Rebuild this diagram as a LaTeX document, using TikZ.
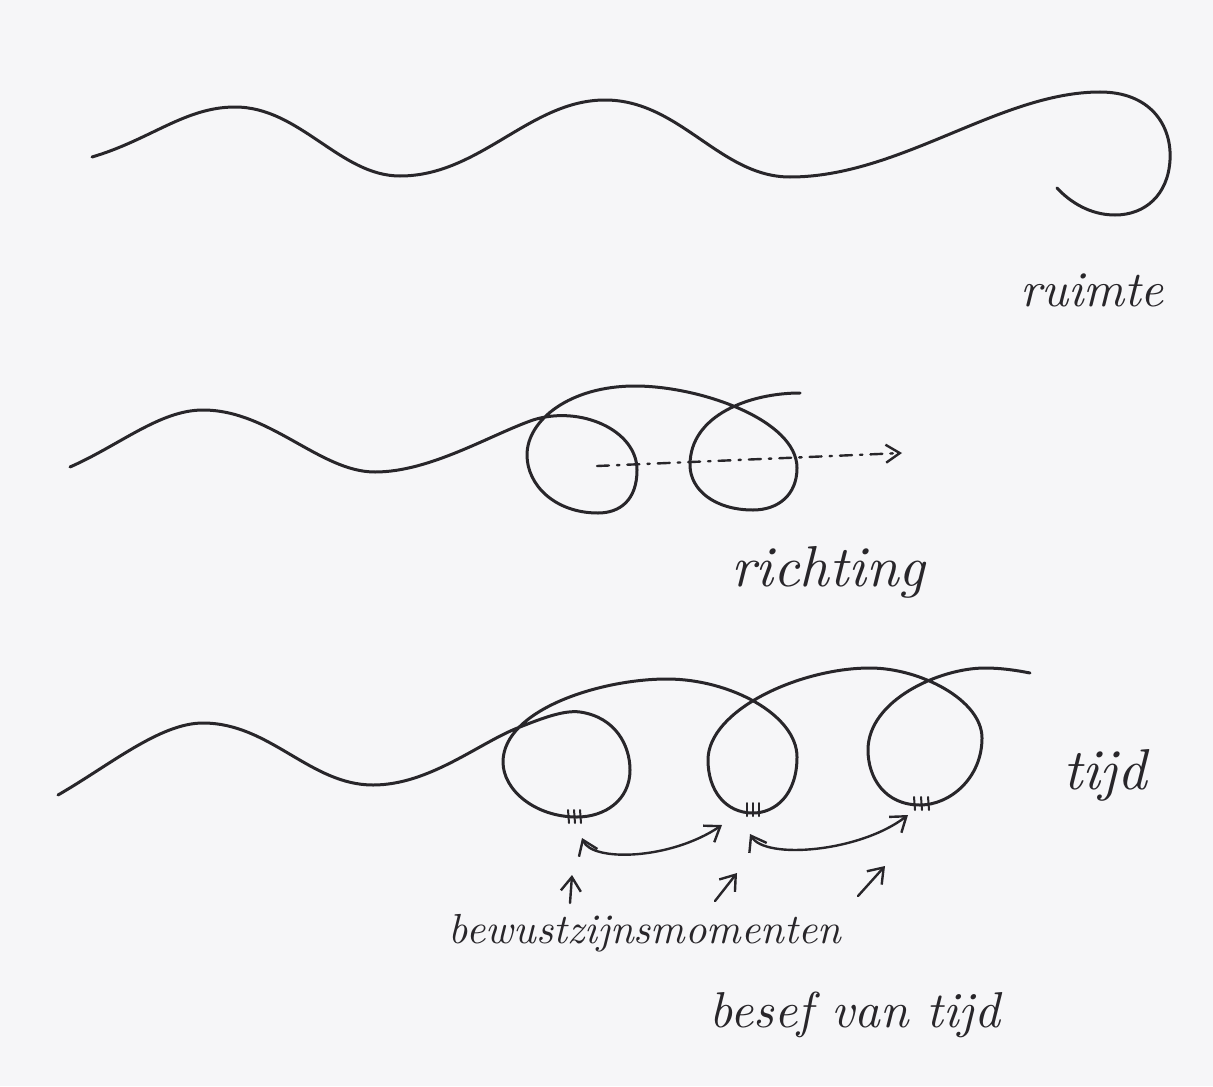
\documentclass[tikz,border=0pt]{standalone}
\usetikzlibrary{arrows.meta}
\definecolor{ink}{RGB}{40,38,42}
\definecolor{paper}{RGB}{246,246,248}
\tikzset{hb/.tip={Straight Barb[length=7pt,width=10pt]}}
\begin{document}
\begin{tikzpicture}[x=0.5pt,y=-0.5pt,
  pen/.style={draw=ink,line width=1.5pt,line cap=round,line join=round},
  tickmark/.style={draw=ink,line width=1pt,line cap=round},
  hand/.style={text=ink,inner sep=0pt},
  barbarrow/.style={draw=ink,line width=1.2pt,line cap=round,line join=round},
]
\fill[paper] (0,0) rectangle (1213,1086);
\useasboundingbox (0,0) rectangle (1213,1086);

% ---------- top wave: ruimte ----------
\draw[pen] (92,157) .. controls (150,140) and (185,107) .. (235,107)
  .. controls (300,107) and (340,176) .. (400,176)
  .. controls (480,176) and (530,100) .. (605,100)
  .. controls (680,100) and (720,177) .. (790,177)
  .. controls (900,177) and (1000,92) .. (1100,92)
  .. controls (1150,92) and (1172,125) .. (1170,160)
  .. controls (1168,195) and (1145,215) .. (1115,215)
  .. controls (1090,215) and (1070,202) .. (1057,188);

% ---------- middle wave: richting ----------
\draw[pen] (70,467) .. controls (120,445) and (160,410) .. (203,410)
  .. controls (270,410) and (320,472) .. (375,472)
  .. controls (430,472) and (490,435) .. (533,420)
  .. controls (580,405) and (637,430) .. (637,470)
  .. controls (637,500) and (620,513) .. (598,513)
  .. controls (555,513) and (527,485) .. (527,455)
  .. controls (527,420) and (570,386) .. (635,386)
  .. controls (700,386) and (797,420) .. (797,468)
  .. controls (797,495) and (778,510) .. (753,510)
  .. controls (715,510) and (690,490) .. (690,465)
  .. controls (690,415) and (750,393) .. (800,393);

\coordinate (dstart) at (597,466);
\coordinate (dend) at (902,453);
\draw[barbarrow,dash pattern=on 6pt off 4pt on 1.2pt off 4pt,-{Straight Barb[length=7pt,width=9pt]}] (dstart) -- (dend);

% ---------- bottom wave: tijd ----------
\draw[pen] (58,795) .. controls (110,765) and (160,723) .. (203,723)
  .. controls (270,723) and (310,785) .. (373,785)
  .. controls (430,785) and (480,742) .. (520,727)
  .. controls (545,717) and (565,710) .. (580,712)
  .. controls (615,717) and (630,745) .. (630,770)
  .. controls (630,800) and (605,817) .. (577,817)
  .. controls (535,817) and (503,790) .. (503,762)
  .. controls (503,710) and (600,679) .. (667,679)
  .. controls (730,679) and (797,715) .. (797,757)
  .. controls (797,795) and (775,813) .. (753,813)
  .. controls (725,813) and (708,790) .. (708,760)
  .. controls (708,710) and (800,668) .. (870,668)
  .. controls (920,668) and (982,700) .. (982,738)
  .. controls (982,778) and (950,805) .. (920,805)
  .. controls (885,805) and (868,778) .. (868,750)
  .. controls (868,700) and (940,668) .. (985,668)
  .. controls (1000,668) and (1015,670) .. (1030,673);

% ticks (bewustzijnsmomenten)
\foreach \x in {568,574,580} \draw[tickmark] (\x,810) -- (\x+1,823);
\foreach \x in {747,753,759} \draw[tickmark] (\x,803) -- (\x,816);
\foreach \x in {914,921,928} \draw[tickmark] (\x,797) -- (\x+1,810);

\coordinate (m1) at (582,838);
\coordinate (m2) at (722,825);
\coordinate (m3) at (750,834);
\coordinate (m4) at (908,815);
\draw[barbarrow,hb-hb] (m1) .. controls (592,862) and (670,860) .. (m2);
\draw[barbarrow,hb-hb] (m3) .. controls (765,860) and (860,852) .. (m4);

% small pointer arrows
\coordinate (p1a) at (570,903); \coordinate (p1b) at (572,875);
\coordinate (p2a) at (715,901); \coordinate (p2b) at (737,873);
\coordinate (p3a) at (858,896); \coordinate (p3b) at (885,866);
\draw[barbarrow,-hb] (p1a) -- (p1b);
\draw[barbarrow,-hb] (p2a) -- (p2b);
\draw[barbarrow,-hb] (p3a) -- (p3b);

% ---------- labels ----------
\node[hand] (ruimte) at (1092,290) {\resizebox{72pt}{!}{\itshape ruimte}};
\node[hand] (richting) at (828,572) {\resizebox{97pt}{!}{\itshape richting}};
\node[hand] (tijd) at (1105,775) {\resizebox{42pt}{!}{\itshape tijd}};
\node[hand] (bewust) at (645,933) {\resizebox{196pt}{!}{\itshape bewustzijnsmomenten}};
\node[hand] (besef) at (855,1015) {\resizebox{145pt}{!}{\itshape besef van tijd}};
\end{tikzpicture}
\end{document}
